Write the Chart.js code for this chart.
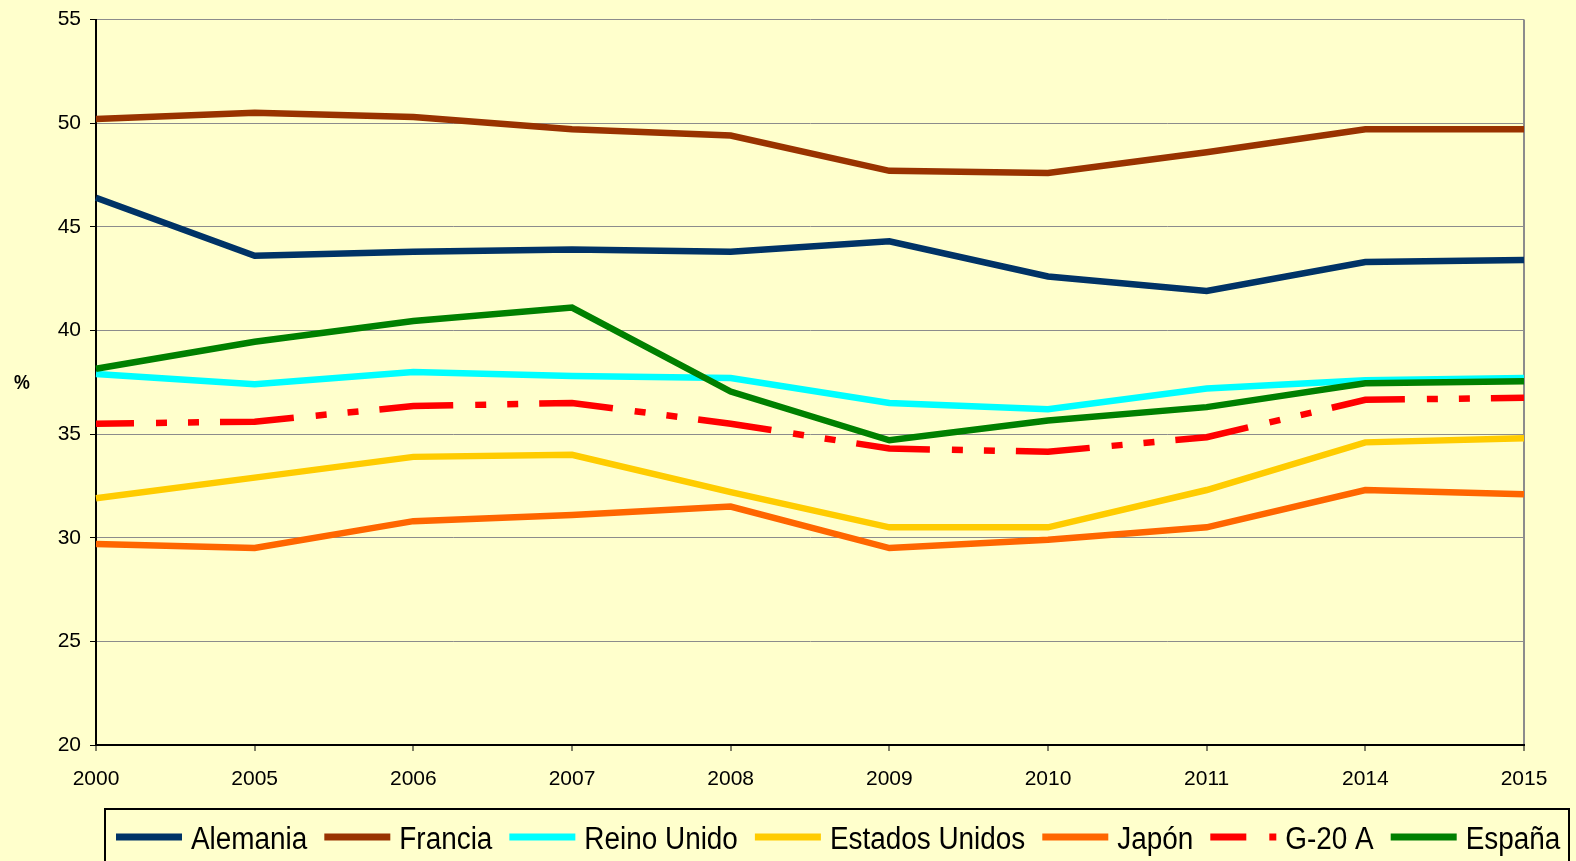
<!DOCTYPE html>
<html>
<head>
<meta charset="utf-8">
<script src="https://cdn.jsdelivr.net/npm/chart.js@4.4.1/dist/chart.umd.min.js"></script>
<style>
  html, body { margin: 0; padding: 0; background: #FFFFCC; }
  canvas { display: block; }
</style>
</head>
<body>
<canvas id="c" width="1576" height="861"></canvas>
<script>
const years = ['2000', '2005', '2006', '2007', '2008', '2009', '2010', '2011', '2014', '2015'];
const yTicks = [20, 25, 30, 35, 40, 45, 50, 55];
const seriesNames = ['Alemania', 'Francia', 'Reino Unido', 'Estados Unidos', 'Japón', 'G-20 A', 'España'];
const alemania = [46.4, 43.6, 43.8, 43.9, 43.8, 44.3, 42.6, 41.9, 43.3, 43.4];
const francia = [50.2, 50.5, 50.3, 49.7, 49.4, 47.7, 47.6, 48.6, 49.7, 49.7];
const reinoUnido = [37.9, 37.4, 38.0, 37.8, 37.7, 36.5, 36.2, 37.2, 37.6, 37.7];
const estadosUnidos = [31.9, 32.9, 33.9, 34.0, 32.2, 30.5, 30.5, 32.3, 34.6, 34.8];
const japon = [29.7, 29.5, 30.8, 31.1, 31.5, 29.5, 29.9, 30.5, 32.3, 32.1];
const g20A = [35.5, 35.6, 36.35, 36.5, 35.5, 34.3, 34.15, 34.85, 36.65, 36.75];
const espana = [38.15, 39.45, 40.45, 41.1, 37.05, 34.7, 35.65, 36.3, 37.45, 37.55];

const seriesValues = [alemania, francia, reinoUnido, estadosUnidos, japon, g20A, espana];
const seriesColors = ['#003366', '#993300', '#00FFFF', '#FFCC00', '#FF6600', '#FF0000', '#008000'];

const SANS = '"Liberation Sans", Arial, sans-serif';

const datasets = seriesNames.map((name, i) => ({
  label: name,
  data: seriesValues[i],
  borderColor: seriesColors[i],
  backgroundColor: seriesColors[i],
  borderWidth: 6.5,
  pointRadius: 0,
  pointHoverRadius: 0,
  tension: 0,
  fill: false,
  borderCapStyle: 'butt',
  borderJoinStyle: 'miter',
  borderDash: name === 'G-20 A' ? [74, 22, 11, 21, 11, 21] : [],
  borderDashOffset: name === 'G-20 A' ? 36 : 0,
  order: seriesNames.length - i
}));

const bgPlugin = {
  id: 'bg',
  beforeDraw(chart) {
    const ctx = chart.ctx;
    ctx.save();
    ctx.fillStyle = '#FFFFCC';
    ctx.fillRect(0, 0, chart.width, chart.height);
    ctx.restore();
  }
};

const extrasPlugin = {
  id: 'extras',
  afterDraw(chart) {
    const ctx = chart.ctx;
    const area = chart.chartArea;
    ctx.save();
    // y axis unit label
    ctx.fillStyle = '#000';
    ctx.font = 'bold 21px ' + SANS;
    ctx.textAlign = 'center';
    ctx.textBaseline = 'middle';
    ctx.save();
    ctx.translate(22, (area.top + area.bottom) / 2 + 1);
    ctx.scale(0.85, 1);
    ctx.fillText('%', 0, 0);
    ctx.restore();

    // legend box
    ctx.strokeStyle = '#000';
    ctx.lineWidth = 2;
    ctx.strokeRect(105, 809, 1464, 80);

    const squeeze = 0.9;
    ctx.font = '31px ' + SANS;
    ctx.textAlign = 'left';
    ctx.textBaseline = 'alphabetic';
    let x = 116;
    const ly = 837;
    chart.data.datasets.forEach(ds => {
      ctx.beginPath();
      ctx.lineWidth = 7;
      ctx.lineCap = 'butt';
      ctx.strokeStyle = ds.borderColor;
      ctx.setLineDash(ds.borderDash && ds.borderDash.length ? [36, 23, 7, 100] : []);
      ctx.moveTo(x, ly);
      ctx.lineTo(x + 66, ly);
      ctx.stroke();
      ctx.setLineDash([]);
      ctx.fillStyle = '#000';
      const tx = x + 75;
      ctx.save();
      ctx.translate(tx, 849);
      ctx.scale(squeeze, 1);
      ctx.fillText(ds.label, 0, 0);
      ctx.restore();
      x = tx + ctx.measureText(ds.label).width * squeeze + 17;
    });
    ctx.restore();
  }
};

new Chart(document.getElementById('c'), {
  type: 'line',
  data: { labels: years, datasets },
  options: {
    responsive: false,
    animation: false,
    devicePixelRatio: 1,
    layout: { padding: { top: 18, right: 52, left: 0, bottom: 0 } },
    plugins: {
      legend: { display: false },
      tooltip: { enabled: false },
      title: { display: false }
    },
    scales: {
      x: {
        type: 'category',
        offset: false,
        grid: {
          color: ctx => (ctx.index === years.length - 1 ? '#8c8c8c' : 'rgba(0,0,0,0)'),
          lineWidth: 2,
          tickColor: '#000',
          tickLength: 6,
          tickWidth: 1,
          drawTicks: true
        },
        border: { display: true, color: '#000', width: 2 },
        ticks: {
          color: '#000',
          font: { family: SANS, size: 21, lineHeight: 1 },
          padding: 18,
          maxRotation: 0,
          autoSkip: false
        },
        afterFit(scale) { scale.height = 116; }
      },
      y: {
        min: 20,
        max: 55,
        afterBuildTicks(scale) { scale.ticks = yTicks.map(v => ({ value: v })); },
        grid: {
          color: '#8c8c8c',
          lineWidth: 1,
          tickColor: '#000',
          tickLength: 6,
          tickWidth: 1
        },
        border: { display: true, color: '#000', width: 2 },
        ticks: {
          color: '#000',
          font: { family: SANS, size: 21, lineHeight: 1 },
          padding: 9
        },
        afterFit(scale) { scale.width = 96; }
      }
    }
  },
  plugins: [bgPlugin, extrasPlugin]
});
</script>
</body>
</html>
